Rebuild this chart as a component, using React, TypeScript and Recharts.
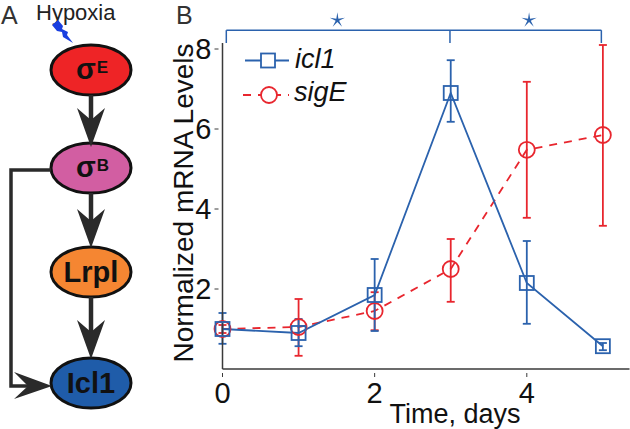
import React from 'react';
import {
  ComposedChart,
  Line,
  XAxis,
  YAxis,
  ErrorBar,
  ReferenceLine,
  ReferenceDot,
  Legend,
} from 'recharts';

const days = [0, 1, 2, 3, 4, 5];
const icl1 = [1.0, 0.9, 1.85, 6.9, 2.15, 0.57];
const icl1Low = [0.63, 0.57, 0.95, 6.18, 1.13, 0.47];
const icl1High = [1.4, 1.25, 2.75, 7.72, 3.2, 0.65];
const sigE = [1.0, 1.05, 1.45, 2.5, 5.48, 5.85];
const sigELow = [0.9, 0.33, 0.97, 1.68, 3.78, 3.58];
const sigEHigh = [1.1, 1.75, 1.92, 3.25, 7.18, 8.1];

const xTicks = [0, 2, 4];
const yTicks = [2, 4, 6, 8];

const rows = days.map((day, i) => ({
  day,
  icl1: icl1[i],
  sigE: sigE[i],
  icl1Err: [icl1[i] - icl1Low[i], icl1High[i] - icl1[i]],
  sigEErr: [sigE[i] - sigELow[i], sigEHigh[i] - sigE[i]],
}));

const BLUE = '#2b62ad';
const RED = '#e8262e';
const AXIS = '#3a3a3a';
const FONT = '"Liberation Sans", Arial, sans-serif';

function SquareDot({ cx, cy }: any) {
  return <rect x={cx - 7} y={cy - 7} width={14} height={14} fill="none" stroke={BLUE} strokeWidth={1.8} />;
}

function CircleDot({ cx, cy }: any) {
  return <circle cx={cx} cy={cy} r={8} fill="none" stroke={RED} strokeWidth={1.8} />;
}

function BottomTick({ x, y, payload }: any) {
  return (
    <g>
      <line x1={x} x2={x} y1={y} y2={y - 4} stroke={AXIS} />
      <text x={x} y={y + 26} textAnchor="middle" fontSize={29} fontFamily={FONT} fill="#111">
        {payload.value}
      </text>
    </g>
  );
}

function LeftTick({ x, y, payload }: any) {
  return (
    <g>
      <line x1={x} x2={x + 4} y1={y} y2={y} stroke={AXIS} />
      <text x={x - 3} y={y + 10} textAnchor="end" fontSize={29} fontFamily={FONT} fill="#111">
        {payload.value}
      </text>
    </g>
  );
}

function TopTick({ x, y }: any) {
  return <line x1={x} x2={x} y1={y} y2={y + 4} stroke={AXIS} />;
}

function RightTick({ x, y }: any) {
  return <line x1={x} x2={x - 4} y1={y} y2={y} stroke={AXIS} />;
}

function Star({ cx, cy }: any) {
  const pts: string[] = [];
  for (let i = 0; i < 10; i++) {
    const r = i % 2 === 0 ? 8 : 1.8;
    const a = (Math.PI * i) / 5 - Math.PI / 2;
    pts.push(`${cx + r * Math.cos(a)},${cy + r * Math.sin(a)}`);
  }
  return <polygon points={pts.join(' ')} fill={BLUE} />;
}

function ChartLegend() {
  return (
    <svg width={170} height={80} style={{ display: 'block' }}>
      <line x1={15} x2={59} y1={19.5} y2={19.5} stroke={BLUE} strokeWidth={1.8} />
      <rect x={31} y={12.5} width={14} height={14} fill="#fff" stroke={BLUE} strokeWidth={1.8} />
      <text x={65} y={27} fontSize={27} fontStyle="italic" fontFamily={FONT} fill="#111">
        icl1
      </text>
      <line x1={13} x2={59} y1={54} y2={54} stroke={RED} strokeWidth={1.8} strokeDasharray="8 7" />
      <circle cx={39} cy={54} r={8} fill="#fff" stroke={RED} strokeWidth={1.8} />
      <text x={64} y={60} fontSize={27} fontStyle="italic" fontFamily={FONT} fill="#111">
        sigE
      </text>
    </svg>
  );
}

function Arrow({ y, tip, w = 4.5 }: { y: number; tip: number; w?: number }) {
  // y = where the shaft leaves the upper node, tip = arrow point
  const x = 91;
  return (
    <g>
      <line x1={x} x2={x} y1={y} y2={tip - 25} stroke="#2a2a2a" strokeWidth={w} />
      <polygon
        points={`${x},${tip} ${x - 14},${tip - 39} ${x},${tip - 27} ${x + 14},${tip - 39}`}
        fill="#2a2a2a"
      />
    </g>
  );
}

function Node({ cy, fill, children }: { cy: number; fill: string; children: React.ReactNode }) {
  return (
    <g>
      <ellipse cx={91} cy={cy} rx={40} ry={25} fill={fill} stroke="#111" strokeWidth={3} />
      {children}
    </g>
  );
}

function PanelA() {
  return (
    <svg width={175} height={429} style={{ position: 'absolute', left: 0, top: 0 }} fontFamily={FONT}>
      <text x={1} y={24} fontSize={25} fill="#333">A</text>
      <text x={36} y={20} fontSize={22} fill="#222">Hypoxia</text>
      <polygon points="52,25 58,20 63,26 62,29 68,32 67,35 73,43 63,37 62,32 57,31" fill="#1a3fe0" />
      <Node cy={70} fill="#ee2426">
        <text x={76} y={79} fontSize={29} fontWeight="bold" fill="#111">
          σ<tspan dx={1} dy={-6} fontSize={17}>E</tspan>
        </text>
      </Node>
      <Node cy={168} fill="#d25ea2">
        <text x={76} y={177} fontSize={29} fontWeight="bold" fill="#111">
          σ<tspan dx={1} dy={-6} fontSize={17}>B</tspan>
        </text>
      </Node>
      <Node cy={272} fill="#f58632">
        <text x={91} y={282} fontSize={29} fontWeight="bold" textAnchor="middle" fill="#111">Lrpl</text>
      </Node>
      <Node cy={383} fill="#1f5ca9">
        <text x={91} y={393} fontSize={29} fontWeight="bold" textAnchor="middle" fill="#111">Icl1</text>
      </Node>
      <Arrow y={95} tip={147} />
      <Arrow y={193} tip={248} />
      <Arrow y={297} tip={359} />
      <polyline points="51,170 11,170 11,386 30,386" fill="none" stroke="#2a2a2a" strokeWidth={3.5} />
      <polygon points="52,386 14,372 28,386 14,399" fill="#2a2a2a" />
    </svg>
  );
}

export default function App() {
  return (
    <div style={{ position: 'absolute', left: 0, top: 0, width: 630, height: 429, background: '#fff', fontFamily: FONT }}>
      <ComposedChart
        width={630}
        height={429}
        data={rows}
        margin={{ top: 43, right: 0.5, bottom: 0, left: 0 }}
      >
        <XAxis
          xAxisId="main"
          type="number"
          dataKey="day"
          domain={[0, 5.35]}
          ticks={xTicks}
          height={60}
          stroke={AXIS}
          strokeWidth={1.5}
          tickLine={false}
          tick={<BottomTick />}
          label={{ value: 'Time, days', position: 'insideBottom', offset: 6, dx: 29, fontSize: 27, fontFamily: FONT, fill: '#111' }}
        />
        <XAxis
          xAxisId="top"
          orientation="top"
          type="number"
          dataKey="day"
          domain={[0, 5.35]}
          ticks={xTicks}
          height={0}
          stroke={AXIS}
          strokeWidth={1.5}
          tickLine={false}
          tick={<TopTick />}
        />
        <YAxis
          yAxisId="main"
          type="number"
          domain={[0, 8.15]}
          ticks={yTicks}
          width={222.5}
          stroke={AXIS}
          strokeWidth={1.5}
          tickLine={false}
          tick={<LeftTick />}
          label={{ value: 'Normalized mRNA Levels', angle: -90, position: 'center', dx: 72, dy: -3, fontSize: 28, fontFamily: FONT, fill: '#111' }}
        />
        <YAxis
          yAxisId="right"
          orientation="right"
          type="number"
          domain={[0, 8.15]}
          ticks={yTicks}
          width={0}
          stroke={AXIS}
          strokeWidth={1.5}
          tickLine={false}
          tick={<RightTick />}
        />
        <ReferenceLine xAxisId="main" yAxisId="main" ifOverflow="visible" stroke={BLUE} strokeWidth={1.5}
          segment={[{ x: 0.05, y: 8.15 }, { x: 0.05, y: 8.47 }]} />
        <ReferenceLine xAxisId="main" yAxisId="main" ifOverflow="visible" stroke={BLUE} strokeWidth={1.5}
          segment={[{ x: 0.05, y: 8.47 }, { x: 4.98, y: 8.47 }]} />
        <ReferenceLine xAxisId="main" yAxisId="main" ifOverflow="visible" stroke={BLUE} strokeWidth={1.5}
          segment={[{ x: 2.99, y: 8.15 }, { x: 2.99, y: 8.47 }]} />
        <ReferenceLine xAxisId="main" yAxisId="main" ifOverflow="visible" stroke={BLUE} strokeWidth={1.5}
          segment={[{ x: 4.98, y: 8.15 }, { x: 4.98, y: 8.47 }]} />
        <ReferenceDot xAxisId="main" yAxisId="main" x={1.51} y={8.72} ifOverflow="visible" shape={<Star />} />
        <ReferenceDot xAxisId="main" yAxisId="main" x={4.03} y={8.72} ifOverflow="visible" shape={<Star />} />
        <Line
          xAxisId="main"
          yAxisId="main"
          dataKey="sigE"
          stroke={RED}
          strokeWidth={1.8}
          strokeDasharray="8 7"
          dot={<CircleDot />}
          activeDot={false}
          isAnimationActive={false}
        >
          <ErrorBar dataKey="sigEErr" direction="y" width={4} stroke={RED} strokeWidth={1.8} isAnimationActive={false} />
        </Line>
        <Line
          xAxisId="main"
          yAxisId="main"
          dataKey="icl1"
          stroke={BLUE}
          strokeWidth={1.8}
          dot={<SquareDot />}
          activeDot={false}
          isAnimationActive={false}
        >
          <ErrorBar dataKey="icl1Err" direction="y" width={4} stroke={BLUE} strokeWidth={1.8} isAnimationActive={false} />
        </Line>
        <Legend
          layout="vertical"
          align="center"
          verticalAlign="middle"
          content={<ChartLegend />}
          wrapperStyle={{ position: 'absolute', left: 230, top: 41, width: 170, height: 80 }}
        />
      </ComposedChart>
      <PanelA />
      <svg width={40} height={40} style={{ position: 'absolute', left: 172, top: 0 }} fontFamily={FONT}>
        <text x={4} y={24} fontSize={25} fill="#333">B</text>
      </svg>
    </div>
  );
}
